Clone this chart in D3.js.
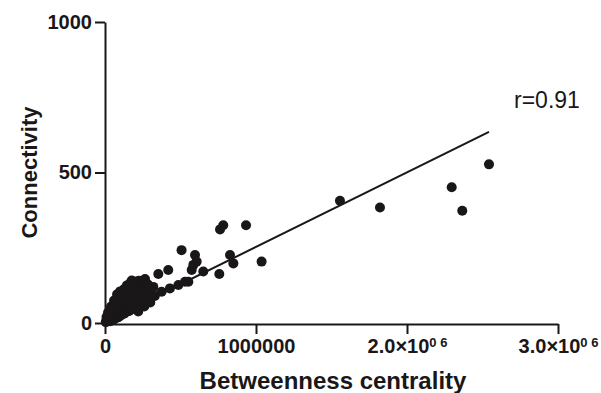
<!DOCTYPE html>
<html>
<head>
<meta charset="utf-8">
<script src="https://cdn.jsdelivr.net/npm/d3@7"></script>
<style>
  body { margin: 0; background: #fff; }
  svg { display: block; }
  text { font-family: "Liberation Sans", Arial, sans-serif; }
</style>
</head>
<body>
<div id="chart"></div>
<script>
// betweenness centrality (units of 1e6) and connectivity
const betweenness = [
  0.005, 0.01, 0.015, 0.02, 0.01, 0.03, 0.025, 0.04, 0.045, 0.05, 0.055, 0.06, 0.065, 0.07, 0.075,
  0.08, 0.09, 0.09, 0.1, 0.1, 0.11, 0.12, 0.12, 0.13, 0.14, 0.14, 0.15, 0.16, 0.16, 0.17,
  0.18, 0.18, 0.19, 0.2, 0.2, 0.21, 0.22, 0.22, 0.23, 0.24, 0.25, 0.26, 0.26, 0.27, 0.28,
  0.3, 0.3, 0.32, 0.33, 0.035, 0.06, 0.085, 0.105, 0.13, 0.155, 0.175, 0.195, 0.215, 0.235,
  0.02, 0.04, 0.06, 0.08, 0.1, 0.125, 0.145, 0.165, 0.185, 0.205, 0.225, 0.245, 0.265, 0.285,
  0.177, 0.265, 0.254, 0.309, 0.353, 0.375, 0.419, 0.43, 0.486, 0.507, 0.53, 0.552, 0.574,
  0.585, 0.596, 0.607, 0.651, 0.757, 0.762, 0.783, 0.934, 0.828, 0.85, 1.037,
  1.556, 1.821, 2.296, 2.366, 2.543
];
const connectivity = [
  3, 8, 5, 12, 20, 18, 28, 10, 30, 22, 40, 15, 35, 50, 28,
  45, 60, 20, 38, 72, 55, 85, 30, 65, 48, 100, 80, 118, 40, 95,
  60, 128, 110, 75, 50, 100, 38, 122, 88, 65, 110, 130, 55, 92, 75,
  105, 68, 120, 90, 6, 12, 18, 25, 32, 40, 46, 52, 58, 64,
  35, 55, 75, 95, 105, 112, 125, 132, 135, 138, 140, 135, 140, 128,
  141, 146, 76, 87, 163, 104, 176, 115, 126, 242, 137, 137, 176,
  193, 226, 204, 171, 163, 311, 325, 325, 226, 198, 204,
  406, 384, 451, 373, 527
];
// fitted line endpoints
const fitX = [0, 2.543];
const fitY = [5, 635];

const yTicks = [0, 500, 1000];
const xTicks = [0, 1, 2, 3];
const xTickLabels = ["0", "1000000", "2.0×10", "3.0×10"];
const xTickSup = ["", "", "0 6", "0 6"];

const width = 601, height = 393;
const margin = { top: 22, right: 43, bottom: 70, left: 105 };

const svg = d3.select("#chart").append("svg")
  .attr("width", width)
  .attr("height", height);

const x = d3.scaleLinear().domain([0, 3]).range([margin.left, 558]);
const y = d3.scaleLinear().domain([0, 1000]).range([323, margin.top]);

// dots
const pts = betweenness.map((b, i) => ({ b, c: connectivity[i] }));
svg.append("g").selectAll("circle")
  .data(pts)
  .enter().append("circle")
  .attr("cx", d => x(d.b))
  .attr("cy", d => y(d.c))
  .attr("r", 5)
  .attr("fill", "#1a1718");

// regression line
svg.append("line")
  .attr("x1", x(fitX[0])).attr("y1", y(fitY[0]))
  .attr("x2", x(fitX[1])).attr("y2", y(fitY[1]))
  .attr("stroke", "#1a1718")
  .attr("stroke-width", 2);

// axes
const yAxis = svg.append("g")
  .attr("transform", `translate(${margin.left},0)`)
  .call(d3.axisLeft(y).tickValues(yTicks).tickSize(10).tickPadding(3).tickSizeOuter(0)
    .tickFormat(d3.format("d")));
const xAxis = svg.append("g")
  .attr("transform", `translate(0,${y(0) + 1})`)
  .call(d3.axisBottom(x).tickValues(xTicks).tickSize(10).tickPadding(5).tickSizeOuter(0)
    .tickFormat((d, i) => xTickLabels[i]));

[yAxis, xAxis].forEach(a => {
  a.select(".domain").attr("stroke", "#1a1718").attr("stroke-width", 2);
  a.selectAll(".tick line").attr("stroke", "#1a1718").attr("stroke-width", 2);
  a.selectAll(".tick text")
    .attr("fill", "#1a1718")
    .style("font-size", "20px")
    .style("font-weight", "bold");
});

xAxis.selectAll(".tick text").each(function(d, i) {
  if (xTickSup[i]) {
    d3.select(this).append("tspan")
      .attr("dy", "-0.45em")
      .style("font-size", "13px")
      .text(xTickSup[i]);
  }
});

// axis titles
svg.append("text")
  .attr("transform", `translate(37,${(y(0) + y(1000)) / 2}) rotate(-90)`)
  .attr("text-anchor", "middle")
  .style("font-size", "22px")
  .style("font-weight", "bold")
  .attr("fill", "#1a1718")
  .text("Connectivity");

svg.append("text")
  .attr("x", 333)
  .attr("y", 389)
  .attr("text-anchor", "middle")
  .style("font-size", "24px")
  .style("font-weight", "bold")
  .attr("fill", "#1a1718")
  .text("Betweenness centrality");

svg.append("text")
  .attr("x", 514)
  .attr("y", 108)
  .style("font-size", "23px")
  .attr("fill", "#1a1718")
  .text("r=0.91");
</script>
</body>
</html>
